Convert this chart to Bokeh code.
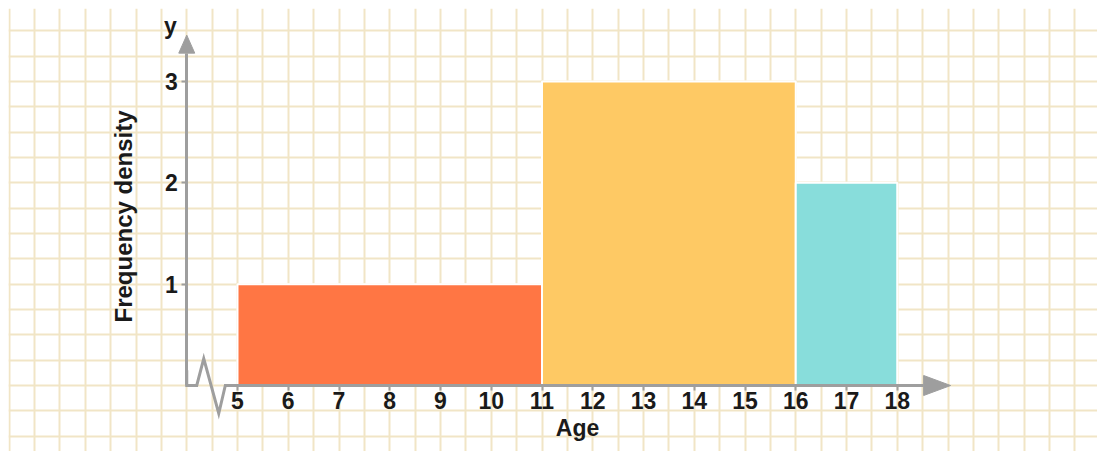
import numpy as np
from bokeh.plotting import figure
from bokeh.models import Range1d, FixedTicker, Label
from bokeh.embed import file_html
from bokeh.resources import INLINE

# ---- data ----
age_edges = [5, 11, 16, 18]
freq_density = [1, 3, 2]
bar_colors = ["#FF7644", "#FEC964", "#88DDDB"]
x_ticks = list(range(5, 19))
y_ticks = [1, 2, 3]
x_label = "Age"
y_label = "Frequency density"
y_axis_name = "y"

# ---- layout constants ----
W, H = 1097, 451
PAD = 8
FW, FH = W - PAD, H - PAD
UX = 50.75   # px per age unit
UY = 101.33  # px per density unit
X0 = 5 - (237 - PAD) / UX
Y1 = (385 - PAD) / UY

p = figure(width=W, height=H, output_backend="svg", toolbar_location=None,
           x_range=Range1d(X0, X0 + FW / UX), y_range=Range1d(Y1 - FH / UY, Y1),
           min_border=0, min_border_left=PAD, min_border_top=PAD,
           outline_line_color=None, background_fill_color="white",
           border_fill_color="white")

GRID = "#F1E5C6"
p.xgrid.ticker = FixedTicker(ticks=list(np.arange(0.5, 22.0, 0.5)))
p.ygrid.ticker = FixedTicker(ticks=list(np.arange(-0.75, 3.76, 0.25)))
for g in (p.xgrid, p.ygrid):
    g.grid_line_color = GRID
    g.grid_line_width = 2

AX = "#9E9E9E"
FONT = "Liberation Sans"

# bars
p.quad(left=age_edges[:-1], right=age_edges[1:], bottom=0, top=freq_density,
       fill_color=bar_colors, line_color="white", line_width=2)

# axes positioned inside the frame
y_axis_x = x_ticks[0] - 1.0
x_axis_end = x_ticks[-1] + 0.52
y_axis_end = y_ticks[-1] + 0.28
break_end = x_ticks[0] - 0.24

xa = p.xaxis[0]
xa.fixed_location = 0
xa.ticker = FixedTicker(ticks=x_ticks)
xa.bounds = (break_end, x_axis_end)
ya = p.yaxis[0]
ya.fixed_location = y_axis_x
ya.ticker = FixedTicker(ticks=y_ticks)
ya.bounds = (0, y_axis_end)
for a in (xa, ya):
    a.axis_line_color = AX
    a.axis_line_width = 3
    a.major_tick_line_color = AX
    a.major_tick_line_width = 2
    a.major_tick_out = 5
    a.major_tick_in = 0
    a.minor_tick_line_color = None
    a.major_label_text_font = FONT
    a.major_label_text_font_style = "bold"
    a.major_label_text_font_size = "23px"
    a.major_label_text_color = "#1A1A1A"
xa.major_label_standoff = 1
ya.major_label_standoff = 4

# axis break zigzag
zx = [y_axis_x, y_axis_x, y_axis_x + 10 / UX, y_axis_x + 17 / UX,
      y_axis_x + 32 / UX, break_end, break_end + 0.05]
zy = [0.15, 0, 0, 27 / UY, -28 / UY, 0, 0]
p.line(zx, zy, line_color=AX, line_width=3, line_join="miter")

# arrow heads
p.patch([x_axis_end, x_axis_end + 27 / UX, x_axis_end],
        [10 / UY, 0, -10 / UY], fill_color=AX, line_color=AX, line_width=1)
p.patch([y_axis_x - 8 / UX, y_axis_x, y_axis_x + 8 / UX],
        [y_axis_end, y_axis_end + 18 / UY, y_axis_end],
        fill_color=AX, line_color=AX, line_width=1)

def X(px):
    return 5 + (px - 237) / UX

def Y(py):
    return (385 - py) / UY

lab_kw = dict(text_font=FONT, text_font_style="bold", text_color="#1A1A1A",
              text_align="center", text_baseline="middle")
p.add_layout(Label(x=X(577), y=Y(427), text=x_label, text_font_size="23px", **lab_kw))
p.add_layout(Label(x=X(123), y=Y(216), text=y_label, text_font_size="24px",
                   angle=np.pi / 2, **lab_kw))
p.add_layout(Label(x=X(170), y=Y(25), text=y_axis_name, text_font_size="23px", **lab_kw))

open("out.html", "w").write(file_html(p, INLINE))
